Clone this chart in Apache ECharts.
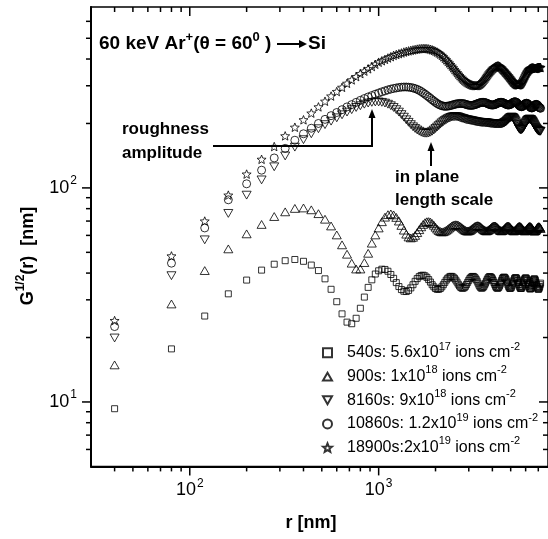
<!DOCTYPE html>
<html>
<head>
<meta charset="utf-8">
<script src="https://cdn.jsdelivr.net/npm/echarts@6/dist/echarts.min.js"></script>
<style>
  html, body { margin: 0; padding: 0; background: #fff; }
  #chart { width: 548px; height: 539px; }
</style>
</head>
<body>
<div id="chart"></div>
<script>
// Sampling distance r [nm]
const radius = [
  40,80,120,160,200,240,280,320,360,400,
  440,480,520,560,600,640,680,720,760,800,
  840,880,920,960,1000,1040,1080,1120,1160,1200,
  1240,1280,1320,1360,1400,1440,1480,1520,1560,1600,
  1640,1680,1720,1760,1800,1840,1880,1920,1960,2000,
  2040,2080,2120,2160,2200,2240,2280,2320,2360,2400,
  2440,2480,2520,2560,2600,2640,2680,2720,2760,2800,
  2840,2880,2920,2960,3000,3040,3080,3120,3160,3200,
  3240,3280,3320,3360,3400,3440,3480,3520,3560,3600,
  3640,3680,3720,3760,3800,3840,3880,3920,3960,4000,
  4040,4080,4120,4160,4200,4240,4280,4320,4360,4400,
  4440,4480,4520,4560,4600,4640,4680,4720,4760,4800,
  4840,4880,4920,4960,5000,5040,5080,5120,5160,5200,
  5240,5280,5320,5360,5400,5440,5480,5520,5560,5600,
  5640,5680,5720,5760,5800,5840,5880,5920,5960,6000,
  6040,6080,6120,6160,6200,6240,6280,6320,6360,6400,
  6440,6480,6520,6560,6600,6640,6680,6720,6760,6800,
  6840,6880,6920,6960,7000,7040,7080,7120,7160,7200
];

// G^1/2(r) [nm] after 540 s
const g540 = [
  9.3,17.7,25.2,32.0,37.1,41.3,44.0,45.7,46.3,45.4,
  43.6,41.1,37.6,33.6,29.4,25.8,23.6,23.2,24.6,27.4,
  30.9,34.3,37.2,39.6,41.0,41.7,41.6,40.8,39.4,37.8,
  36.1,34.6,33.5,32.9,32.8,33.2,34.1,35.3,36.6,37.7,
  38.5,39.0,39.1,38.8,38.2,37.3,36.3,35.3,34.5,33.9,
  33.6,33.6,33.9,34.5,35.3,36.2,37.1,37.8,38.3,38.6,
  38.6,38.3,37.8,37.1,36.3,35.5,34.8,34.3,34.0,34.0,
  34.2,34.7,35.4,36.2,37.0,37.7,38.2,38.5,38.6,38.4,
  38.0,37.4,36.7,35.9,35.1,34.5,34.1,34.0,34.2,34.6,
  35.2,35.9,36.7,37.4,38.0,38.4,38.5,38.4,38.1,37.6,
  36.9,36.1,35.4,34.7,34.2,34.0,34.0,34.3,34.8,35.5,
  36.3,37.0,37.7,38.1,38.3,38.2,37.9,37.4,36.7,36.0,
  35.2,34.6,34.1,33.9,34.0,34.3,34.9,35.6,36.4,37.1,
  37.7,38.0,38.1,37.9,37.5,36.9,36.2,35.4,34.7,34.2,
  33.9,33.9,34.1,34.6,35.2,36.0,36.8,37.4,37.8,38.0,
  37.9,37.5,36.9,36.2,35.4,34.7,34.1,33.8,33.7,33.9,
  34.4,35.0,35.8,36.5,37.1,37.5,37.6,37.4,36.9,36.2,
  35.5,34.8,34.2,33.8,33.6,33.7,34.1,34.6,35.3,35.9
];

// G^1/2(r) [nm] after 900 s
const g900 = [
  14.9,28.7,41.1,51.9,61.0,67.5,73.5,77.3,80.2,80.6,
  79.0,75.8,71.4,66.4,60.3,54.2,49.0,44.5,41.8,41.8,
  44.8,49.5,55.2,60.3,65.0,69.5,73.0,75.0,75.6,74.8,
  72.8,70.0,66.8,63.5,60.8,59.0,58.4,58.8,60.0,61.8,
  63.8,65.8,67.5,68.8,69.5,69.6,69.2,68.2,66.9,65.5,
  64.2,63.2,62.6,62.3,62.4,62.8,63.4,64.1,64.9,65.7,
  66.4,66.9,67.2,67.3,67.2,66.9,66.4,65.8,65.1,64.4,
  63.8,63.3,63.0,62.9,63.0,63.3,63.8,64.4,65.0,65.6,
  66.1,66.4,66.6,66.6,66.4,66.0,65.5,64.9,64.3,63.8,
  63.4,63.1,63.0,63.1,63.4,63.8,64.3,64.9,65.4,65.9,
  66.2,66.4,66.4,66.2,65.8,65.3,64.8,64.2,63.7,63.3,
  63.1,63.0,63.2,63.5,64.0,64.5,65.1,65.6,66.0,66.2,
  66.3,66.2,65.9,65.4,64.9,64.3,63.8,63.4,63.1,63.0,
  63.1,63.4,63.8,64.3,64.8,65.3,65.7,66.0,66.1,66.0,
  65.8,65.4,64.9,64.4,63.9,63.5,63.2,63.0,63.0,63.2,
  63.5,64.0,64.5,65.0,65.4,65.8,66.0,66.0,65.9,65.6,
  65.2,64.7,64.2,63.7,63.3,63.0,62.9,63.0,63.2,63.6,
  64.1,64.6,65.1,65.5,65.8,65.9,65.8,65.5,65.1,64.6
];

// G^1/2(r) [nm] after 8160 s
const g8160 = [
  19.9,38.9,57.2,76,92.5,109,125.5,141,155,168,
  179,189,197.5,205,212.5,219.5,226,232,237.5,242,
  246,249,251,252,252,251,249,246,242,237.5,
  232,226,220,214,208,202.5,197.5,193,189.5,186.5,
  184,182,180.5,180,180,180.5,182,184,186.5,189.5,
  192.5,195.5,198.5,201.5,204,206.5,208.5,210.5,212,213.5,
  214.5,215,215.5,215.5,215,214.5,213.5,212.5,211.5,211,
  210,209,208.5,208,207.5,207,206.5,206,205.5,205,
  204.5,204,203.5,203,203,202.5,202.5,202,202,202,
  202,201.5,201.5,201,201,200.5,200.5,200,200,200,
  199.5,199.5,199,199,199,199,199,199,199,199,
  199,199.5,200,200.5,201,202,203,204,205.5,207,
  208.5,210,211.5,212.5,213.5,214,214,213.5,212.5,211,
  209,206.5,204,201,198,195,192.5,190,188.5,187.5,
  187,187,187.5,188.5,190,192,194,196.5,199,201,
  203,205,206.5,207.5,208.5,209,209.5,209.5,209,208.5,
  207.5,206,204.5,202.5,200.5,198.5,196.5,194.5,192.5,191,
  189.5,188,187,186,185,184.5,184,184,184,184
];

// G^1/2(r) [nm] after 10860 s
const g10860 = [
  22.5,44.5,65,88,104.5,121,138,153,167,179,
  190,200,209,217.5,225,232,239,245,251,256.5,
  261.5,266,270,274,277.5,281,284,287,289.5,291.5,
  293,294.5,295.5,296,296,295.5,294.5,293,291,288.5,
  285.5,282,278,274,270,266,262,258,254.5,251,
  248,245.5,243.5,242,241,240.5,240.5,241,241.5,242.5,
  243.5,244.5,245.5,246.5,247,247.5,248,248,248,247.5,
  247,246,245,244,243.5,243,243,243,243.5,244,
  245,246,247,248,249,250,250.5,251,251,251,
  250.5,250,249,248,247,246,245,244.5,244,244,
  244,244.5,245,246,247,248,249,250,250.5,251,
  251,251,250.5,250,249,248,247,246,245,244.5,
  244,244,244.5,245,246,247,248.5,250,251,252,
  252.5,252.5,252,251,249.5,248,246,244,242.5,241,
  240,239.5,239.5,240,241,242.5,244,245.5,247,248,
  248.5,248.5,248,247,245.5,243.5,241.5,239.5,238,237,
  236.5,236.5,237,238,239.5,241,242.5,244,245,245.5,
  245.5,245,244,242.5,241,239.5,238,237,236,235.5
];

// G^1/2(r) [nm] after 18900 s
const g18900 = [
  24.0,48.1,70,92.5,116,136,156,175,192,208,
  223.5,239,254,268.5,282,295,308,319.5,331,342,
  351,360,369,378,386.5,392.5,398.5,404.5,410,416,
  420,423.5,427,431,434,436.5,439,441,443,445,
  446.5,447.5,448,448,447.5,446,444,441.5,438.5,435,
  431,426.5,421.5,416,409.5,403,396.5,390,383.5,377,
  370.5,364,357.5,351.5,345.5,340,335,330,325.5,321.5,
  318,315,312,309.5,307.5,305.5,304,302.5,301.5,301,
  300.5,300.5,300.5,301.5,303,305,307.5,310.5,314,318,
  322,326,330.5,335,339.5,344,348,352,355.5,359,
  362,364.5,366.5,368.5,370,371,371.5,371,369.5,367.5,
  365,362,359,356,353,350,347,344,341,338,
  335,332,329,326,323,320,317,314.5,312,310,
  308,306.5,305,304,303.5,303,303,303,303.5,304.5,
  306,308,310.5,313.5,317,321,325,329,333,337,
  341,344.5,348,351,354,356.5,358.5,360,361.5,362.5,
  363,363.5,363.5,363.5,363,362.5,362,361.5,361.5,362,
  362.5,363,364,365,365.5,366,366,366,365.5,365
];

// Axis ranges and tick positions
const xRange = [30, 7880];
const yRange = [5, 700];
const xMajorTicks = [100, 1000];
const xMinorTicks = [40,50,60,70,80,90,200,300,400,500,600,700,800,900,2000,3000,4000,5000,6000,7000];
const yMajorTicks = [10, 100];
const yMinorTicks = [6,7,8,9,20,30,40,50,60,70,80,90,200,300,400,500,600];

const legendLabels = {
  '540s':   '540s: 5.6x10{sup|17} ions cm{sup|-2}',
  '900s':   '900s: 1x10{sup|18} ions cm{sup|-2}',
  '8160s':  '8160s: 9x10{sup|18} ions cm{sup|-2}',
  '10860s': '10860s: 1.2x10{sup|19} ions cm{sup|-2}',
  '18900s': '18900s:2x10{sup|19} ions cm{sup|-2}'
};

const FONT = '"Liberation Sans", Arial, sans-serif';
const STAR = 'path://M50,0L62.9,32.3L97.6,34.5L70.9,56.8L79.4,90.5L50,72L20.6,90.5L29.1,56.8L2.4,34.5L37.1,32.3Z';
const DOWN_TRI = 'path://M0,0L100,0L50,87Z';
const UP_TRI = 'path://M50,0L100,87L0,87Z';

function pairs(values) {
  return radius.map((r, i) => [r, values[i]]);
}

function hollow(name, values, symbol, size) {
  return {
    name: name,
    type: 'scatter',
    data: pairs(values),
    symbol: symbol,
    symbolSize: size,
    symbolKeepAspect: true,
    itemStyle: { color: 'rgba(0,0,0,0)', borderColor: '#000', borderWidth: 1 },
    emphasis: { disabled: true },
    silent: true
  };
}

// Ticks: outward on bottom/left, inward on top/right
function tickSeries(kind) {
  const items = [];
  if (kind === 'x') {
    xMajorTicks.forEach(v => items.push([v, 10, 9]));
    xMinorTicks.forEach(v => items.push([v, 10, 5]));
  } else {
    yMajorTicks.forEach(v => items.push([100, v, 9]));
    yMinorTicks.forEach(v => items.push([100, v, 5]));
  }
  return {
    type: 'custom',
    silent: true,
    data: items,
    encode: { x: 0, y: 1 },
    renderItem: function (params, api) {
      const cs = params.coordSys;
      const len = api.value(2);
      const st = { stroke: '#000', lineWidth: 1.5 };
      if (kind === 'x') {
        const px = api.coord([api.value(0), 10])[0];
        const b = cs.y + cs.height, t = cs.y;
        return { type: 'group', children: [
          { type: 'line', shape: { x1: px, y1: b, x2: px, y2: b + len }, style: st },
          { type: 'line', shape: { x1: px, y1: t, x2: px, y2: t + len }, style: st }
        ]};
      }
      const py = api.coord([100, api.value(1)])[1];
      const l = cs.x, r = cs.x + cs.width;
      return { type: 'group', children: [
        { type: 'line', shape: { x1: l - len, y1: py, x2: l, y2: py }, style: st },
        { type: 'line', shape: { x1: r - len, y1: py, x2: r, y2: py }, style: st }
      ]};
    }
  };
}

function powerLabel(v) {
  const e = Math.log10(v);
  if (Math.abs(e - Math.round(e)) > 1e-6) return '';
  return '10{sup|' + Math.round(e) + '}';
}

// superscript token: sits at the top of a taller line box
const supAxis = { fontSize: 12, fontFamily: FONT, verticalAlign: 'top', lineHeight: 10, padding: [0, 0, 0, 1] };
const supBold = { fontSize: 13, fontWeight: 'bold', fontFamily: FONT, verticalAlign: 'top', lineHeight: 10 };

const chart = echarts.init(document.getElementById('chart'), null, { renderer: 'canvas' });

chart.setOption({
  animation: false,
  backgroundColor: '#fff',
  grid: { left: 91, top: 7, width: 458, height: 459.4, show: true, borderColor: '#000', borderWidth: 1.5, backgroundColor: 'transparent' },
  xAxis: {
    type: 'log', logBase: 10, min: xRange[0], max: xRange[1],
    axisLine: { show: true, lineStyle: { color: '#000', width: 2 } },
    axisTick: { show: false }, minorTick: { show: false },
    splitLine: { show: false }, minorSplitLine: { show: false },
    axisLabel: {
      formatter: powerLabel, margin: 11, color: '#000',
      fontSize: 18, fontFamily: FONT, lineHeight: 26,
      showMinLabel: false, showMaxLabel: false,
      rich: { sup: supAxis }
    }
  },
  yAxis: {
    type: 'log', logBase: 10, min: yRange[0], max: yRange[1],
    axisLine: { show: true, lineStyle: { color: '#000', width: 2 } },
    axisTick: { show: false }, minorTick: { show: false },
    splitLine: { show: false }, minorSplitLine: { show: false },
    axisLabel: {
      formatter: powerLabel, margin: 14, color: '#000',
      fontSize: 18, fontFamily: FONT, lineHeight: 26,
      showMinLabel: false, showMaxLabel: false,
      rich: { sup: supAxis }
    }
  },
  legend: {
    orient: 'vertical', left: 317, top: 336,
    itemWidth: 9, itemHeight: 9, itemGap: 0,
    selectedMode: false,
    data: ['540s', '900s', '8160s', '10860s', '18900s'],
    formatter: name => legendLabels[name],
    textStyle: {
      color: '#000', fontSize: 16, fontFamily: FONT, lineHeight: 23.7, padding: [0, 0, 0, 10],
      rich: { sup: { fontSize: 11, fontFamily: FONT, verticalAlign: 'top', lineHeight: 9 } }
    }
  },
  series: [
    hollow('540s', g540, 'rect', 6),
    hollow('900s', g900, UP_TRI, 9),
    hollow('8160s', g8160, DOWN_TRI, 9),
    hollow('10860s', g10860, 'circle', 8),
    hollow('18900s', g18900, STAR, 9),
    tickSeries('x'),
    tickSeries('y')
  ],
  graphic: [
    { type: 'text', x: 99, y: 44, style: {
        text: '60 keV Ar{sup|+}(θ = 60{sup|0} )', fill: '#000', verticalAlign: 'middle',
        font: 'bold 19px ' + FONT, lineHeight: 27,
        rich: { sup: supBold }
    } },
    { type: 'line', shape: { x1: 277, y1: 44, x2: 300, y2: 44 }, style: { stroke: '#000', lineWidth: 2 } },
    { type: 'polygon', shape: { points: [[299, 40], [307, 44], [299, 48]] }, style: { fill: '#000' } },
    { type: 'text', x: 308, y: 44, style: { text: 'Si', fill: '#000', verticalAlign: 'middle', font: 'bold 19px ' + FONT } },

    { type: 'text', x: 122, y: 129, style: { text: 'roughness', fill: '#000', verticalAlign: 'middle', font: 'bold 17px ' + FONT } },
    { type: 'text', x: 122, y: 153, style: { text: 'amplitude', fill: '#000', verticalAlign: 'middle', font: 'bold 17px ' + FONT } },
    { type: 'polyline', shape: { points: [[213, 146], [372, 146], [372, 117]] }, style: { stroke: '#000', lineWidth: 2, fill: null } },
    { type: 'polygon', shape: { points: [[368.5, 118], [375.5, 118], [372, 109]] }, style: { fill: '#000' } },

    { type: 'text', x: 395, y: 177, style: { text: 'in plane', fill: '#000', verticalAlign: 'middle', font: 'bold 17px ' + FONT } },
    { type: 'text', x: 395, y: 200, style: { text: 'length scale', fill: '#000', verticalAlign: 'middle', font: 'bold 17px ' + FONT } },
    { type: 'line', shape: { x1: 431, y1: 166, x2: 431, y2: 150 }, style: { stroke: '#000', lineWidth: 2 } },
    { type: 'polygon', shape: { points: [[427.5, 151], [434.5, 151], [431, 142]] }, style: { fill: '#000' } },

    { type: 'text', x: 311, y: 523, style: { text: 'r [nm]', fill: '#000', align: 'center', verticalAlign: 'middle', font: 'bold 18px ' + FONT } },
    { type: 'text', x: 28, y: 256, rotation: Math.PI / 2, style: {
        text: 'G{sup|1/2}(r)  [nm]', fill: '#000', align: 'center', verticalAlign: 'middle',
        font: 'bold 18px ' + FONT, lineHeight: 26,
        rich: { sup: { fontSize: 12, fontWeight: 'bold', fontFamily: FONT, verticalAlign: 'top', lineHeight: 10 } }
    } }
  ]
});
</script>
</body>
</html>
